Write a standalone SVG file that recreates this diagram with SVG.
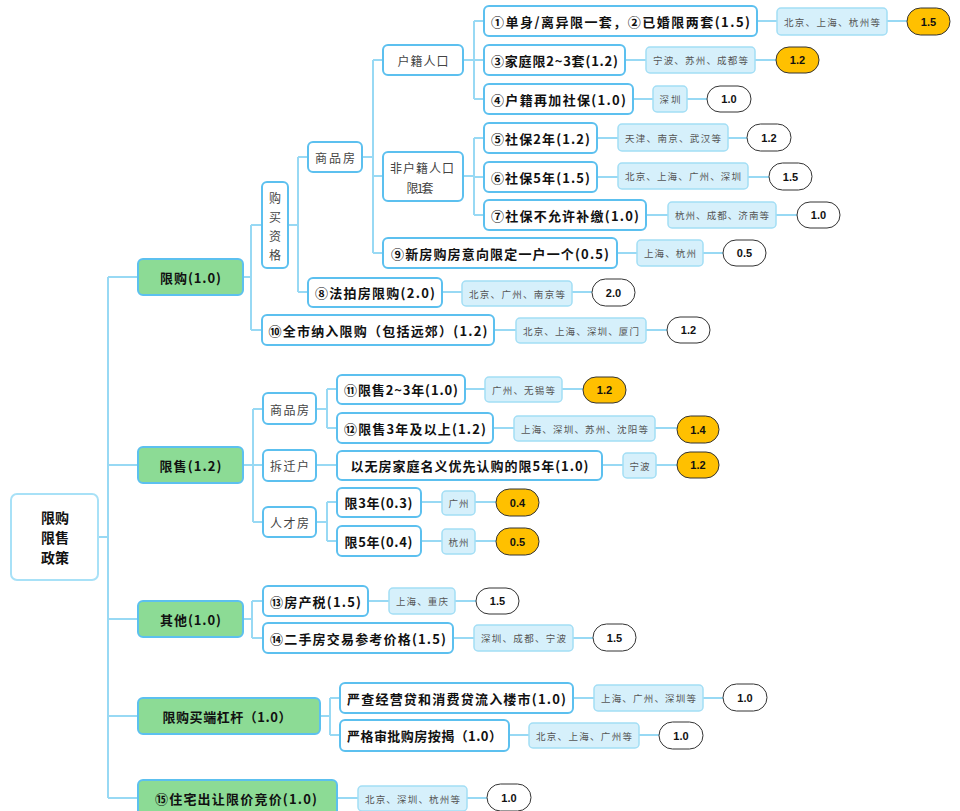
<svg xmlns="http://www.w3.org/2000/svg" width="960" height="811" viewBox="0 0 960 811">
<style>
.ln{stroke:#98d9f4;stroke-width:2;fill:none}
.bx{fill:#fff;stroke:#5cc0ef;stroke-width:2}
.rt{fill:#fff;stroke:#a8e1f7;stroke-width:2}
.g1{fill:#8cdb95;stroke:#5cc0ef;stroke-width:2}
.tg{fill:#d6f0fb;stroke:#a3def5;stroke-width:1.5}
.sc{fill:#fff;stroke:#333;stroke-width:1}
.sy{fill:#ffc000;stroke:#333;stroke-width:1}
text{font-family:"Noto Sans CJK SC","Noto Sans",sans-serif;dominant-baseline:central;text-anchor:middle}
.t0{font-size:14px;font-weight:bold;fill:#111}
.t1{font-size:13px;font-weight:bold;fill:#111}
.t2{font-size:12px;fill:#444}
.t3{font-size:9.5px;fill:#555}
.t4{font-family:"Liberation Sans",Arial,sans-serif;font-size:11px;font-weight:bold;fill:#111}
</style>
<g id="connectors">
<path class="ln" d="M98,537H108M108,277V798M108,277H138M108,465H138M108,619H138M108,716H138M108,798H138"/>
<path class="ln" d="M243,277H251M251,225V330M251,225H262M251,330H262"/>
<path class="ln" d="M288,225H298M298,157V292M298,157H308M298,292H308"/>
<path class="ln" d="M362,157H373M373,60V253M373,60H383M373,176H383M373,253H383"/>
<path class="ln" d="M463,60H474M474,21V99M474,21H484M474,60H484M474,99H484"/>
<path class="ln" d="M463,176H474M474,138V215M474,138H484M474,177H484M474,215H484"/>
<path class="ln" d="M757,21H777M887,21H907M625,60H646M755,60H776M633,99H653M687,99H707M597,138H618M728,138H747M597,177H618M748,177H769M646,215H668M776,215H797M617,253H637M703,253H723M442,292H462M572,292H592M494,330H516M646,330H667"/>
<path class="ln" d="M243,465H253M253,409V522M253,409H263M253,465H263M253,522H263"/>
<path class="ln" d="M316,409H327M327,389V428M327,389H337M327,428H337M316,465H337M316,522H327M327,502V541M327,502H337M327,541H337"/>
<path class="ln" d="M465,389H485M562,389H583M493,428H514M655,428H677M602,465H623M656,465H677M421,502H442M475,502H496M421,541H442M475,541H496"/>
<path class="ln" d="M243,619H252M252,601V638M252,601H263M252,638H263M368,601H389M455,601H476M453,638H474M573,638H593"/>
<path class="ln" d="M320,716H330M330,698V735M330,698H340M330,735H340M573,698H594M703,698H723M509,735H529M639,735H659"/>
<path class="ln" d="M337,798H358M467,798H487"/>
</g>
<g id="root"><rect class="rt" x="11" y="494" width="87" height="86" rx="6"/><text class="t0" x="55" y="517">限购</text><text class="t0" x="55" y="537">限售</text><text class="t0" x="55" y="557">政策</text></g>
<g id="xiangou"><rect class="g1" x="138" y="259" width="105" height="36" rx="5"/><text class="t1" x="190.5" y="277" textLength="61" lengthAdjust="spacing">限购(1.0)</text></g>
<g id="xianshou"><rect class="g1" x="138" y="447" width="105" height="36" rx="5"/><text class="t1" x="190.5" y="465" textLength="62" lengthAdjust="spacing">限售(1.2)</text></g>
<g id="qita"><rect class="g1" x="138" y="601" width="105" height="36" rx="5"/><text class="t1" x="190.5" y="619" textLength="61" lengthAdjust="spacing">其他(1.0)</text></g>
<g id="ganggan"><rect class="g1" x="138" y="698" width="182" height="36" rx="5"/><text class="t1" x="227" y="716" textLength="129" lengthAdjust="spacing">限购买端杠杆（1.0）</text></g>
<g id="n15"><rect class="g1" x="138" y="780" width="199" height="36" rx="5"/><text class="t1" x="236" y="798" textLength="162" lengthAdjust="spacing">⑮住宅出让限价竞价(1.0)</text><rect class="tg" x="358" y="786" width="109" height="25" rx="4"/><text class="t3" x="412.5" y="798.5" textLength="95" lengthAdjust="spacing">北京、深圳、杭州等</text><rect class="sc" x="487" y="784" width="44" height="27" rx="13.5"/><text class="t4" x="509" y="797.5">1.0</text></g>
<g id="goumaizige"><rect class="bx" x="262" y="182" width="26" height="86" rx="5"/><text class="t2" x="275" y="197">购</text><text class="t2" x="275" y="216">买</text><text class="t2" x="275" y="235">资</text><text class="t2" x="275" y="254">格</text></g>
<g id="n10"><rect class="bx" x="262" y="315" width="232" height="30" rx="5"/><text class="t1" x="378" y="330" textLength="219" lengthAdjust="spacing">⑩全市纳入限购（包括远郊）(1.2)</text><rect class="tg" x="516" y="318" width="130" height="25" rx="4"/><text class="t3" x="581" y="330.5" textLength="116" lengthAdjust="spacing">北京、上海、深圳、厦门</text><rect class="sc" x="667" y="317" width="43" height="26" rx="13"/><text class="t4" x="688.5" y="330">1.2</text></g>
<g id="spf1"><rect class="bx" x="308" y="142" width="54" height="30" rx="5"/><text class="t2" x="335" y="157" textLength="40" lengthAdjust="spacing">商品房</text></g>
<g id="n8"><rect class="bx" x="308" y="278" width="134" height="29" rx="5"/><text class="t1" x="375" y="292.5" textLength="120" lengthAdjust="spacing">⑧法拍房限购(2.0)</text><rect class="tg" x="462" y="281" width="110" height="25" rx="4"/><text class="t3" x="517" y="293.5" textLength="96" lengthAdjust="spacing">北京、广州、南京等</text><rect class="sc" x="592" y="279" width="43" height="27" rx="13.5"/><text class="t4" x="613.5" y="292.5">2.0</text></g>
<g id="huji"><rect class="bx" x="383" y="45" width="80" height="30" rx="5"/><text class="t2" x="423" y="60" textLength="51" lengthAdjust="spacing">户籍人口</text></g>
<g id="feihuji"><rect class="bx" x="383" y="152" width="80" height="49" rx="5"/><text class="t2" x="422" y="167" textLength="64" lengthAdjust="spacing">非户籍人口</text><text class="t2" x="420" y="187" textLength="27" lengthAdjust="spacing">限1套</text></g>
<g id="n9"><rect class="bx" x="383" y="238" width="234" height="30" rx="5"/><text class="t1" x="500" y="253" textLength="218" lengthAdjust="spacing">⑨新房购房意向限定一户一个(0.5)</text><rect class="tg" x="637" y="240" width="66" height="26" rx="4"/><text class="t3" x="670" y="253" textLength="52" lengthAdjust="spacing">上海、杭州</text><rect class="sc" x="723" y="240" width="43" height="26" rx="13"/><text class="t4" x="744.5" y="253">0.5</text></g>
<g id="n1"><rect class="bx" x="484" y="6" width="273" height="30" rx="5"/><text class="t1" x="620.5" y="21" textLength="259" lengthAdjust="spacing">①单身/离异限一套，②已婚限两套(1.5)</text><rect class="tg" x="777" y="8" width="110" height="27" rx="4"/><text class="t3" x="832" y="21.5" textLength="96" lengthAdjust="spacing">北京、上海、杭州等</text><rect class="sy" x="907" y="8" width="43" height="27" rx="13.5"/><text class="t4" x="928.5" y="21.5">1.5</text></g>
<g id="n3"><rect class="bx" x="484" y="45" width="141" height="30" rx="5"/><text class="t1" x="554.5" y="60" textLength="127" lengthAdjust="spacing">③家庭限2~3套(1.2)</text><rect class="tg" x="646" y="47" width="109" height="26" rx="4"/><text class="t3" x="700.5" y="60" textLength="95" lengthAdjust="spacing">宁波、苏州、成都等</text><rect class="sy" x="776" y="47" width="43" height="26" rx="13"/><text class="t4" x="797.5" y="60">1.2</text></g>
<g id="n4"><rect class="bx" x="484" y="84" width="149" height="30" rx="5"/><text class="t1" x="558.5" y="99" textLength="135" lengthAdjust="spacing">④户籍再加社保(1.0)</text><rect class="tg" x="653" y="86" width="34" height="26" rx="4"/><text class="t3" x="670" y="99" textLength="21" lengthAdjust="spacing">深圳</text><rect class="sc" x="707" y="86" width="44" height="26" rx="13"/><text class="t4" x="729" y="99">1.0</text></g>
<g id="n5"><rect class="bx" x="484" y="123" width="113" height="30" rx="5"/><text class="t1" x="540.5" y="138" textLength="99" lengthAdjust="spacing">⑤社保2年(1.2)</text><rect class="tg" x="618" y="124" width="110" height="27" rx="4"/><text class="t3" x="673" y="137.5" textLength="96" lengthAdjust="spacing">天津、南京、武汉等</text><rect class="sc" x="747" y="124" width="44" height="27" rx="13.5"/><text class="t4" x="769" y="137.5">1.2</text></g>
<g id="n6"><rect class="bx" x="484" y="162" width="113" height="30" rx="5"/><text class="t1" x="540.5" y="177" textLength="99" lengthAdjust="spacing">⑥社保5年(1.5)</text><rect class="tg" x="618" y="163" width="130" height="26" rx="4"/><text class="t3" x="683" y="176" textLength="116" lengthAdjust="spacing">北京、上海、广州、深圳</text><rect class="sc" x="769" y="163" width="43" height="27" rx="13.5"/><text class="t4" x="790.5" y="176.5">1.5</text></g>
<g id="n7"><rect class="bx" x="484" y="200" width="162" height="30" rx="5"/><text class="t1" x="565" y="215" textLength="148" lengthAdjust="spacing">⑦社保不允许补缴(1.0)</text><rect class="tg" x="668" y="202" width="108" height="26" rx="4"/><text class="t3" x="722" y="215" textLength="94" lengthAdjust="spacing">杭州、成都、济南等</text><rect class="sc" x="797" y="202" width="43" height="26" rx="13"/><text class="t4" x="818.5" y="215">1.0</text></g>
<g id="spf2"><rect class="bx" x="263" y="393" width="53" height="31" rx="5"/><text class="t2" x="289.5" y="409" textLength="39" lengthAdjust="spacing">商品房</text></g>
<g id="chaiqianhu"><rect class="bx" x="263" y="450" width="53" height="31" rx="5"/><text class="t2" x="289.5" y="465" textLength="39" lengthAdjust="spacing">拆迁户</text></g>
<g id="rencaifang"><rect class="bx" x="263" y="507" width="53" height="30" rx="5"/><text class="t2" x="289.5" y="522" textLength="39" lengthAdjust="spacing">人才房</text></g>
<g id="n11"><rect class="bx" x="337" y="375" width="128" height="29" rx="5"/><text class="t1" x="401" y="389.5" textLength="114" lengthAdjust="spacing">⑪限售2~3年(1.0)</text><rect class="tg" x="485" y="377" width="77" height="25" rx="4"/><text class="t3" x="523.5" y="389.5" textLength="63" lengthAdjust="spacing">广州、无锡等</text><rect class="sy" x="583" y="377" width="43" height="26" rx="13"/><text class="t4" x="604.5" y="390">1.2</text></g>
<g id="n12"><rect class="bx" x="337" y="413" width="156" height="30" rx="5"/><text class="t1" x="415" y="428" textLength="142" lengthAdjust="spacing">⑫限售3年及以上(1.2)</text><rect class="tg" x="514" y="416" width="141" height="25" rx="4"/><text class="t3" x="584.5" y="428.5" textLength="127" lengthAdjust="spacing">上海、深圳、苏州、沈阳等</text><rect class="sy" x="677" y="416" width="42" height="27" rx="13.5"/><text class="t4" x="698" y="429.5">1.4</text></g>
<g id="nwf"><rect class="bx" x="337" y="451" width="265" height="29" rx="5"/><text class="t1" x="469.5" y="465.5" textLength="238" lengthAdjust="spacing">以无房家庭名义优先认购的限5年(1.0)</text><rect class="tg" x="623" y="453" width="33" height="25" rx="4"/><text class="t3" x="639.5" y="465.5" textLength="20" lengthAdjust="spacing">宁波</text><rect class="sy" x="677" y="452" width="42" height="26" rx="13"/><text class="t4" x="698" y="465">1.2</text></g>
<g id="n3y"><rect class="bx" x="337" y="488" width="84" height="29" rx="5"/><text class="t1" x="378.5" y="502.5" textLength="68" lengthAdjust="spacing">限3年(0.3)</text><rect class="tg" x="442" y="491" width="33" height="24" rx="4"/><text class="t3" x="458.5" y="503" textLength="20" lengthAdjust="spacing">广州</text><rect class="sy" x="496" y="489" width="43" height="27" rx="13.5"/><text class="t4" x="517.5" y="502.5">0.4</text></g>
<g id="n5y"><rect class="bx" x="337" y="526" width="84" height="30" rx="5"/><text class="t1" x="378.5" y="541" textLength="68" lengthAdjust="spacing">限5年(0.4)</text><rect class="tg" x="442" y="529" width="33" height="25" rx="4"/><text class="t3" x="458.5" y="541.5" textLength="20" lengthAdjust="spacing">杭州</text><rect class="sy" x="496" y="528" width="43" height="27" rx="13.5"/><text class="t4" x="517.5" y="541.5">0.5</text></g>
<g id="n13"><rect class="bx" x="263" y="586" width="105" height="30" rx="5"/><text class="t1" x="315.5" y="601" textLength="91" lengthAdjust="spacing">⑬房产税(1.5)</text><rect class="tg" x="389" y="588" width="66" height="26" rx="4"/><text class="t3" x="422" y="601" textLength="52" lengthAdjust="spacing">上海、重庆</text><rect class="sc" x="476" y="588" width="43" height="26" rx="13"/><text class="t4" x="497.5" y="601">1.5</text></g>
<g id="n14"><rect class="bx" x="263" y="623" width="190" height="30" rx="5"/><text class="t1" x="358" y="638" textLength="176" lengthAdjust="spacing">⑭二手房交易参考价格(1.5)</text><rect class="tg" x="474" y="625" width="99" height="26" rx="4"/><text class="t3" x="523.5" y="638" textLength="85" lengthAdjust="spacing">深圳、成都、宁波</text><rect class="sc" x="593" y="624" width="43" height="27" rx="13.5"/><text class="t4" x="614.5" y="637.5">1.5</text></g>
<g id="nyc"><rect class="bx" x="340" y="683" width="233" height="30" rx="5"/><text class="t1" x="456.5" y="698" textLength="219" lengthAdjust="spacing">严查经营贷和消费贷流入楼市(1.0)</text><rect class="tg" x="594" y="685" width="109" height="26" rx="4"/><text class="t3" x="648.5" y="698" textLength="95" lengthAdjust="spacing">上海、广州、深圳等</text><rect class="sc" x="723" y="684" width="44" height="27" rx="13.5"/><text class="t4" x="745" y="697.5">1.0</text></g>
<g id="nyg"><rect class="bx" x="340" y="720" width="169" height="31" rx="5"/><text class="t1" x="424.5" y="735.5" textLength="155" lengthAdjust="spacing">严格审批购房按揭（1.0）</text><rect class="tg" x="529" y="723" width="110" height="25" rx="4"/><text class="t3" x="584" y="735.5" textLength="96" lengthAdjust="spacing">北京、上海、广州等</text><rect class="sc" x="659" y="722" width="44" height="27" rx="13.5"/><text class="t4" x="681" y="735.5">1.0</text></g>
</svg>
